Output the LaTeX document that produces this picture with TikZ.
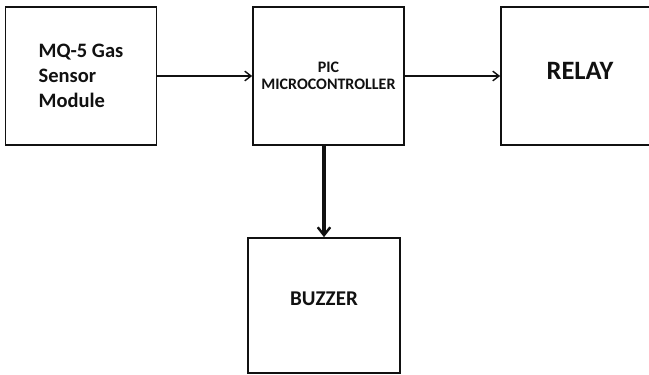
\documentclass[tikz,border=0pt]{standalone}
\usepackage{fontspec}
\setmainfont{Carlito}
\usetikzlibrary{arrows.meta,positioning}
\definecolor{Ink}{HTML}{111111}
\tikzset{
  flowarrow/.style={-{Straight Barb[length=2.2mm,width=3.4mm,line width=1.4pt]},line width=1.7pt,draw=Ink},
  thickflow/.style={-{Straight Barb[length=2.8mm,width=4.4mm,line width=2.4pt]},line width=3.4pt,draw=Ink},
  blockbox/.style={draw=Ink,line width=1.7pt,minimum width=151pt,minimum height=138pt,
    inner sep=0pt,align=center,text=Ink},
}

\begin{document}
\begin{tikzpicture}[x=1pt,y=-1pt]
    \useasboundingbox (0,0) rectangle (649,375);
    \clip (0,0) rectangle (649,375);
    \fill[white] (0,0) rectangle (649,375);

    \node[blockbox,align=left,font=\fontsize{20.5}{25}\selectfont\bfseries] (sensor) at (81,76)
      {MQ-5 Gas\\Sensor\\Module};
    \node[blockbox,font=\fontsize{16}{17.5}\selectfont\bfseries] (pic) at (328.5,76)
      {PIC\\MICROCONTROLLER};
    \node[blockbox,minimum width=158pt,text depth=10pt,font=\fontsize{26.5}{30}\selectfont\bfseries] (relay) at (580,76)
      {RELAY};
    \node[blockbox,minimum width=152pt,minimum height=135pt,text depth=14pt,font=\fontsize{21}{25}\selectfont\bfseries] (buzzer) at (324,305.5)
      {BUZZER};

    \draw[flowarrow] (sensor) -- (pic);
    \draw[flowarrow] (pic) -- (relay);
    \draw[thickflow] (pic.south -| buzzer) -- (buzzer.north);
  \end{tikzpicture}
\end{document}
